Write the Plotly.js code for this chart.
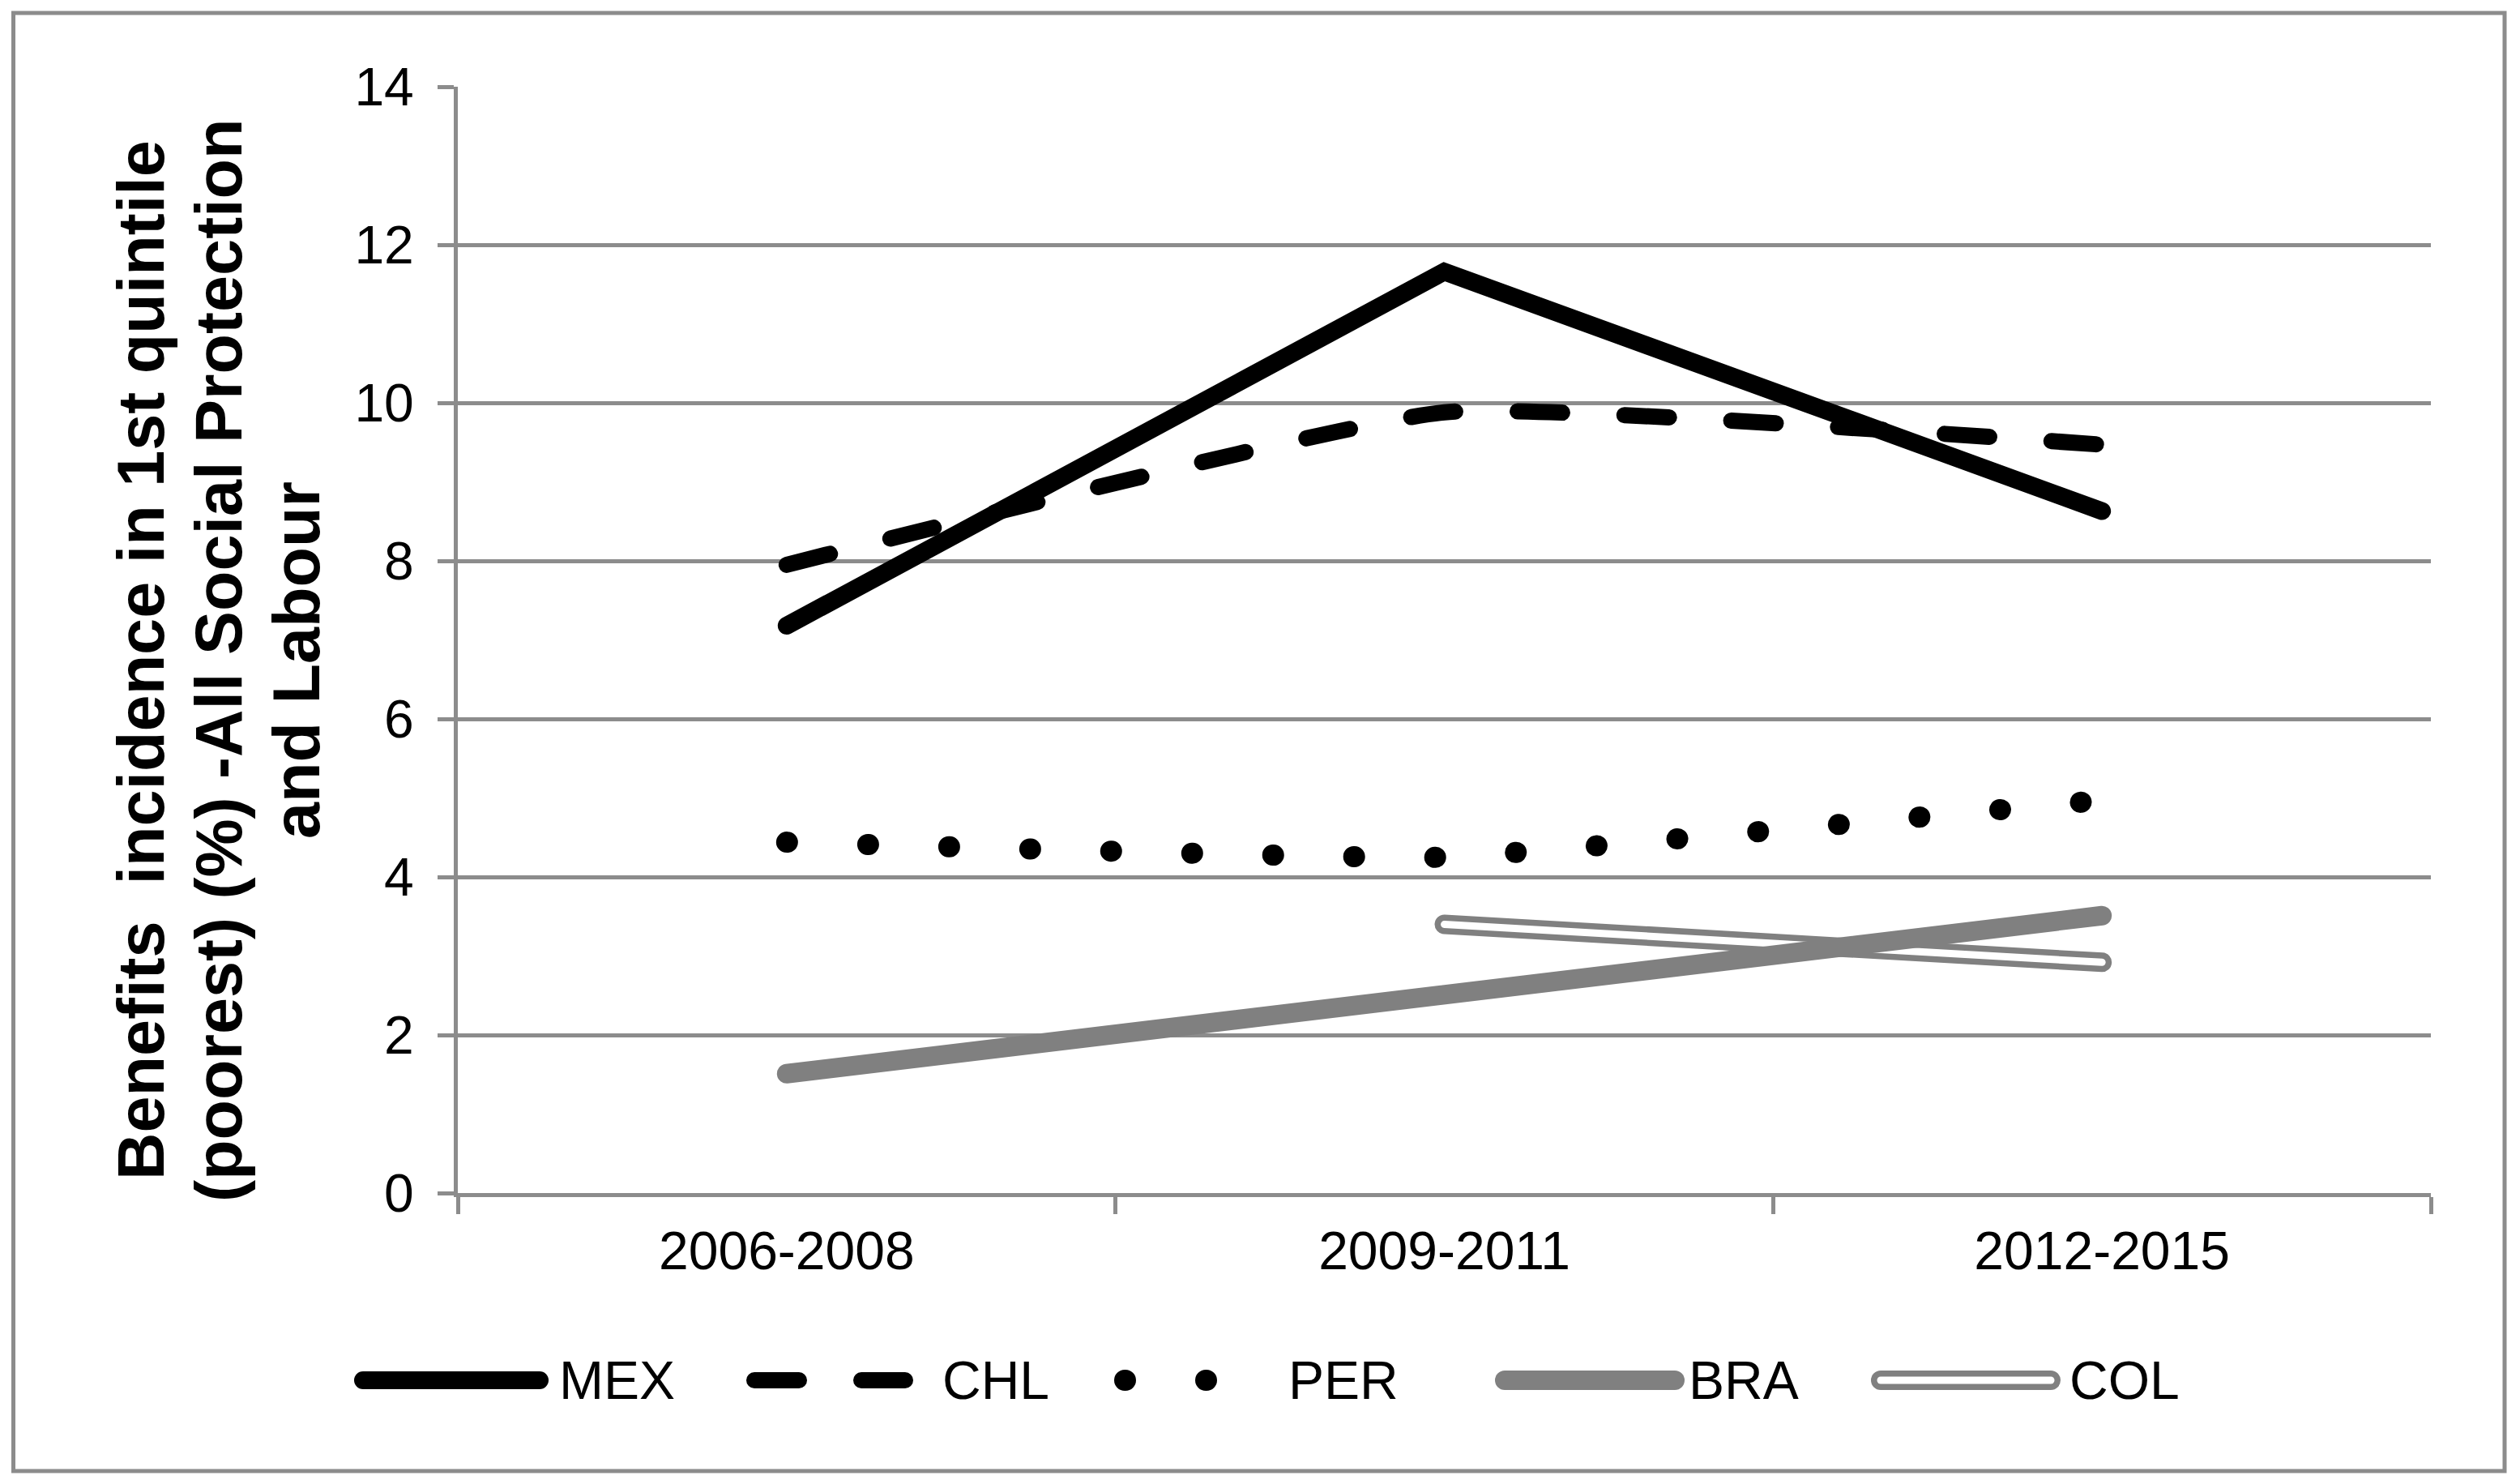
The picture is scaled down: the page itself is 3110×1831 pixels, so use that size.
<!DOCTYPE html>
<html>
<head>
<meta charset="utf-8">
<script src="https://cdn.plot.ly/plotly-3.0.1.min.js"></script>
<style>
  html, body { margin: 0; padding: 0; background: #fff; }
  /* Excel style round ends on the series lines */
  .scatterlayer .js-line, .shapelayer path { stroke-linecap: round; }
</style>
</head>
<body>
<div id="chart" style="width:3110px;height:1831px;"></div>
<script>
// data
const categories = ['2006-2008', '2009-2011', '2012-2015'];
const mex = [7.18, 11.66, 8.63];
const chl = [7.95, 9.88, 9.47];
const per = [4.44, 4.25, 4.97];
const bra = [1.51, 2.52, 3.51];
const col = [null, 3.40, 2.92];
const yTicks = [0, 2, 4, 6, 8, 10, 12, 14];
const seriesNames = ['MEX', 'CHL', 'PER', 'BRA', 'COL'];
const titleLines = [
  'Benefits&nbsp; incidence in 1st quintile',
  '(poorest) (%) -All Social Protection',
  'and Labour'
];

const W = 3110, H = 1831;
const M = { l: 565, r: 110, t: 107, b: 359 };
const plotW = W - M.l - M.r;
const plotH = H - M.t - M.b;
const FONT = 'Liberation Sans, Arial, sans-serif';
const GRID = '#8c8c8c';
const GREY = '#808080';

// pixel -> paper coordinates, for the hand drawn legend, title and frame
const px = x => (x - M.l) / plotW;
const py = y => (H - M.b - y) / plotH;

function line(name, y, color, width, dash, shape, smoothing) {
  return {
    x: categories, y: y, name: name, type: 'scatter', mode: 'lines',
    line: { color: color, width: width, dash: dash || 'solid', shape: shape || 'linear', smoothing: smoothing || 1 },
    connectgaps: false, showlegend: false, hoverinfo: 'skip'
  };
}

const data = [
  line('MEX', mex, '#000', 22),
  line('CHL', chl, '#000', 20, '55px,77px', 'spline', 0.4),
  line('PER', per, '#000', 26, '1px,99px', 'spline', 0.3),
  line('COL', col, GREY, 24),
  line('COL', col, '#fff', 9),
  line('BRA', bra, GREY, 24)
];

// legend: long Excel style symbols, drawn as shapes
const legendY = py(1703);
const legendSym = [[448, 666], [931, 1117], [1388, 1587], [1857, 2067], [2321, 2531]];
const legendText = [688, 1161, 1588, 2082, 2552];
const legendStyle = [
  [{ color: '#000', width: 22, dash: 'solid' }],
  [{ color: '#000', width: 20, dash: '55px,77px' }],
  [{ color: '#000', width: 26, dash: '1px,99px' }],
  [{ color: GREY, width: 24, dash: 'solid' }],
  [{ color: GREY, width: 24, dash: 'solid' }, { color: '#fff', width: 9, dash: 'solid' }]
];

const shapes = [{
  type: 'rect', xref: 'paper', yref: 'paper',
  x0: px(16.5), x1: px(3091), y0: py(1815), y1: py(16),
  line: { color: GRID, width: 5 }, fillcolor: 'rgba(0,0,0,0)'
}];
const annotations = [];

seriesNames.forEach((name, i) => {
  legendStyle[i].forEach(st => {
    shapes.push({
      type: 'line', xref: 'paper', yref: 'paper',
      x0: px(legendSym[i][0]), x1: px(legendSym[i][1]), y0: legendY, y1: legendY,
      line: st
    });
  });
  annotations.push({
    xref: 'paper', yref: 'paper', x: px(legendText[i]), y: legendY,
    xanchor: 'left', yanchor: 'middle', showarrow: false,
    text: name, font: { family: FONT, size: 66, color: '#000' }
  });
});

// y axis title, one annotation per line so the line spacing matches
const titleX = [174, 270, 366];
titleLines.forEach((t, i) => {
  annotations.push({
    xref: 'paper', yref: 'paper', x: px(titleX[i]), y: py(815),
    xanchor: 'center', yanchor: 'middle', showarrow: false, textangle: -90,
    text: t,
    font: { family: FONT, size: 81, weight: 700, color: '#000' }
  });
});

const layout = {
  width: W, height: H,
  margin: M,
  paper_bgcolor: '#fff',
  plot_bgcolor: '#fff',
  showlegend: false,
  font: { family: FONT, size: 66, color: '#000' },
  xaxis: {
    type: 'category', range: [-0.5, 2.5],
    showgrid: false, zeroline: false,
    showline: true, linecolor: GRID, linewidth: 5,
    ticks: 'outside', tickson: 'boundaries', ticklen: 21, tickwidth: 5, tickcolor: GRID,
    tickfont: { family: FONT, size: 66, color: '#000' },
    ticklabelstandoff: 10
  },
  yaxis: {
    range: [0, 14], tickvals: yTicks, ticktext: yTicks.map(String),
    showgrid: true, gridcolor: GRID, gridwidth: 5, zeroline: false,
    showline: true, linecolor: GRID, linewidth: 5,
    ticks: 'outside', ticklen: 20, tickwidth: 5, tickcolor: GRID,
    tickfont: { family: FONT, size: 66, color: '#000' },
    ticklabelstandoff: 16
  },
  shapes: shapes,
  annotations: annotations
};

Plotly.newPlot('chart', data, layout, { displayModeBar: false, staticPlot: true });
</script>
</body>
</html>
